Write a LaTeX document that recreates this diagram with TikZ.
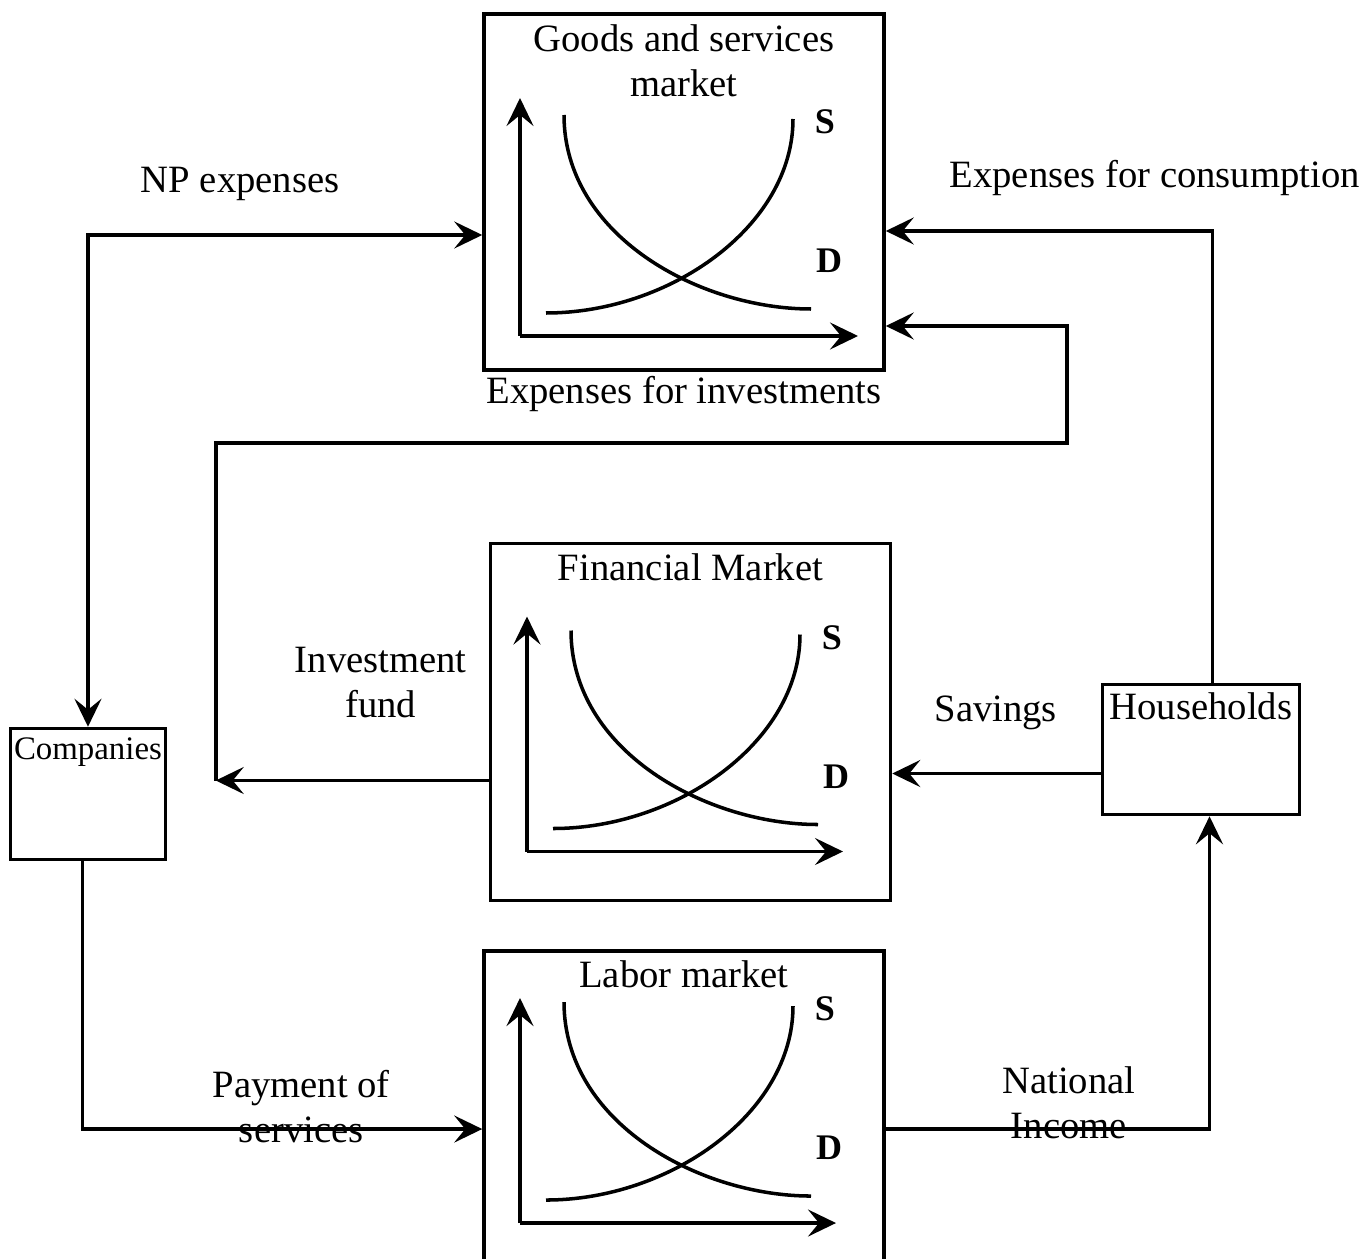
\documentclass[tikz,border=0pt]{standalone}
\usepackage{fontspec}
\setmainfont{Liberation Serif}
\usetikzlibrary{positioning,arrows.meta}
\usetikzlibrary{calc}

% supply and demand chart: #1 market, #2 origin, #3 x-axis, #4 y-axis
\newcommand{\sdchart}[4]{%
  \begin{scope}[shift={(#2)}]
    \draw [chartAxis] (0,0) -- (0,#4);
    \draw [chartAxis] (0,0) -- (#3,0);
    % demand
    \draw [chartCurve] (0.88,4.42) .. controls (0.88,2.0) and (3.6,0.54) .. (5.82,0.54);
    % supply
    \draw [chartCurve] (0.52,0.46) .. controls (3.0,0.46) and (5.46,2.2) .. (5.46,4.34);
    \node [chartLabel] (#1S) at (6.1,4.28) {S};
    \node [chartLabel] (#1D) at (6.18,1.5) {D};
  \end{scope}
}

\begin{document}
\begin{tikzpicture}[>={Stealth[length=0.56cm,width=0.54cm,inset=0.22cm]}]
  \tikzstyle{market} = [
    % The shape:
    rectangle, minimum width=8cm, minimum height=7.12cm, inner sep=0pt,
    % The border:
    draw=black, line width=2pt
  ];
  \tikzstyle{sector} = [
    % The shape:
    rectangle, inner sep=0pt,
    % The border:
    draw=black, line width=2pt
  ];
  \tikzstyle{annotation} = [
    % Just text!
    inner sep=0pt, align=center,
    font=\fontsize{22}{25.6}\selectfont
  ];
  \tikzstyle{chartAxis} = [
    draw=black, line width=2pt, ->
  ];
  \tikzstyle{chartCurve} = [
    draw=black, line width=2pt
  ];
  \tikzstyle{chartLabel} = [
    inner sep=0pt,
    font=\fontsize{20.5}{24}\selectfont\bfseries
  ];
  \tikzstyle{flow} = [
    draw=black, line width=2pt, ->
  ];

  \useasboundingbox (0,0) rectangle (27.36,-25.18);

  \node [market] at (13.68,-3.84) (goods) {};
  \node [market, below=3.4cm of goods, xshift=0.13cm, minimum height=7.14cm] (financial) {};
  \node [market, below=0.94cm of financial, xshift=-0.13cm] (labor) {};

  \node [sector, below left=7.1cm and 6.3cm of goods,
         minimum width=3.1cm, minimum height=2.62cm] (companies) {};
  \node [sector, below right=6.22cm and 4.3cm of goods,
         minimum width=3.94cm, minimum height=2.6cm] (households) {};

  % titles
  \node [annotation, below=1.68cm of goods.north, anchor=base] (goodsTitle) {Goods and services\\market};
  \node [annotation, below=0.78cm of financial.north, anchor=base] (financialTitle) {Financial Market};
  \node [annotation, below=0.76cm of labor.north, anchor=base] (laborTitle) {Labor market};
  \node [annotation, below=0.74cm of households.north, anchor=base] (householdsTitle) {Households};
  \node [annotation, below=0.66cm of companies.north, anchor=base,
         font=\fontsize{18.7}{22}\selectfont] (companiesTitle) {Companies};

  % charts
  \coordinate [below left=2.88cm and 3.28cm of goods.center] (goodsOrigin);
  \coordinate [below left=2.59cm and 3.27cm of financial.center] (financialOrigin);
  \coordinate [below left=1.88cm and 3.28cm of labor.center] (laborOrigin);
  \sdchart{goods}{goodsOrigin}{6.76}{4.76}
  \sdchart{financial}{financialOrigin}{6.32}{4.7}
  \sdchart{labor}{laborOrigin}{6.32}{4.5}

  % flow ends
  \coordinate [below=0.86cm of goods.west] (npIn);
  \coordinate [below=0.78cm of goods.east] (consIn);
  \coordinate [below=2.68cm of goods.east] (invIn);
  \coordinate [below right=1.42cm and 3.62cm of goods.south east] (invTurn);
  \coordinate [below left=1.17cm and 5.46cm of financial.west] (fundEnd);
  \coordinate [below=0.48cm of households.west] (saveOut);
  \coordinate [right=0.23cm of households.north] (consOut);
  \coordinate [left=0.11cm of companies.south] (payOut);
  \coordinate [right=0.17cm of households.south] (incomeIn);

  \path [flow, <->] (companies.north) |- (npIn);
  \path [flow] (consOut) |- (consIn);
  \path [flow] (financial.west |- fundEnd) -- (fundEnd);
  \path [flow] (fundEnd) |- (invTurn) |- (invIn);
  \path [flow] (saveOut) -- (saveOut -| financial.east);
  \path [flow] (payOut) |- (labor.west);
  \path [flow] (labor.east) -| (incomeIn);

  % flow labels
  \node [annotation, above left=0.84cm and 4.84cm of npIn, anchor=base] (npLabel) {NP expenses};
  \node [annotation, above right=0.86cm and 5.38cm of consIn, anchor=base] (consLabel) {Expenses for consumption};
  \node [annotation, below=0.64cm of goods.south, anchor=base] (invLabel) {Expenses for investments};
  \node [annotation, above right=1.26cm and 3.3cm of fundEnd, anchor=base] (fundLabel) {Investment\\fund};
  \node [annotation, above left=1.04cm and 2.1cm of saveOut, anchor=base] (saveLabel) {Savings};
  \node [annotation, below left=0.26cm and 3.62cm of labor.west, anchor=base] (payLabel) {Payment of\\services};
  \node [annotation, below right=0.18cm and 3.66cm of labor.east, anchor=base] (incomeLabel) {National\\Income};
\end{tikzpicture}
\end{document}
